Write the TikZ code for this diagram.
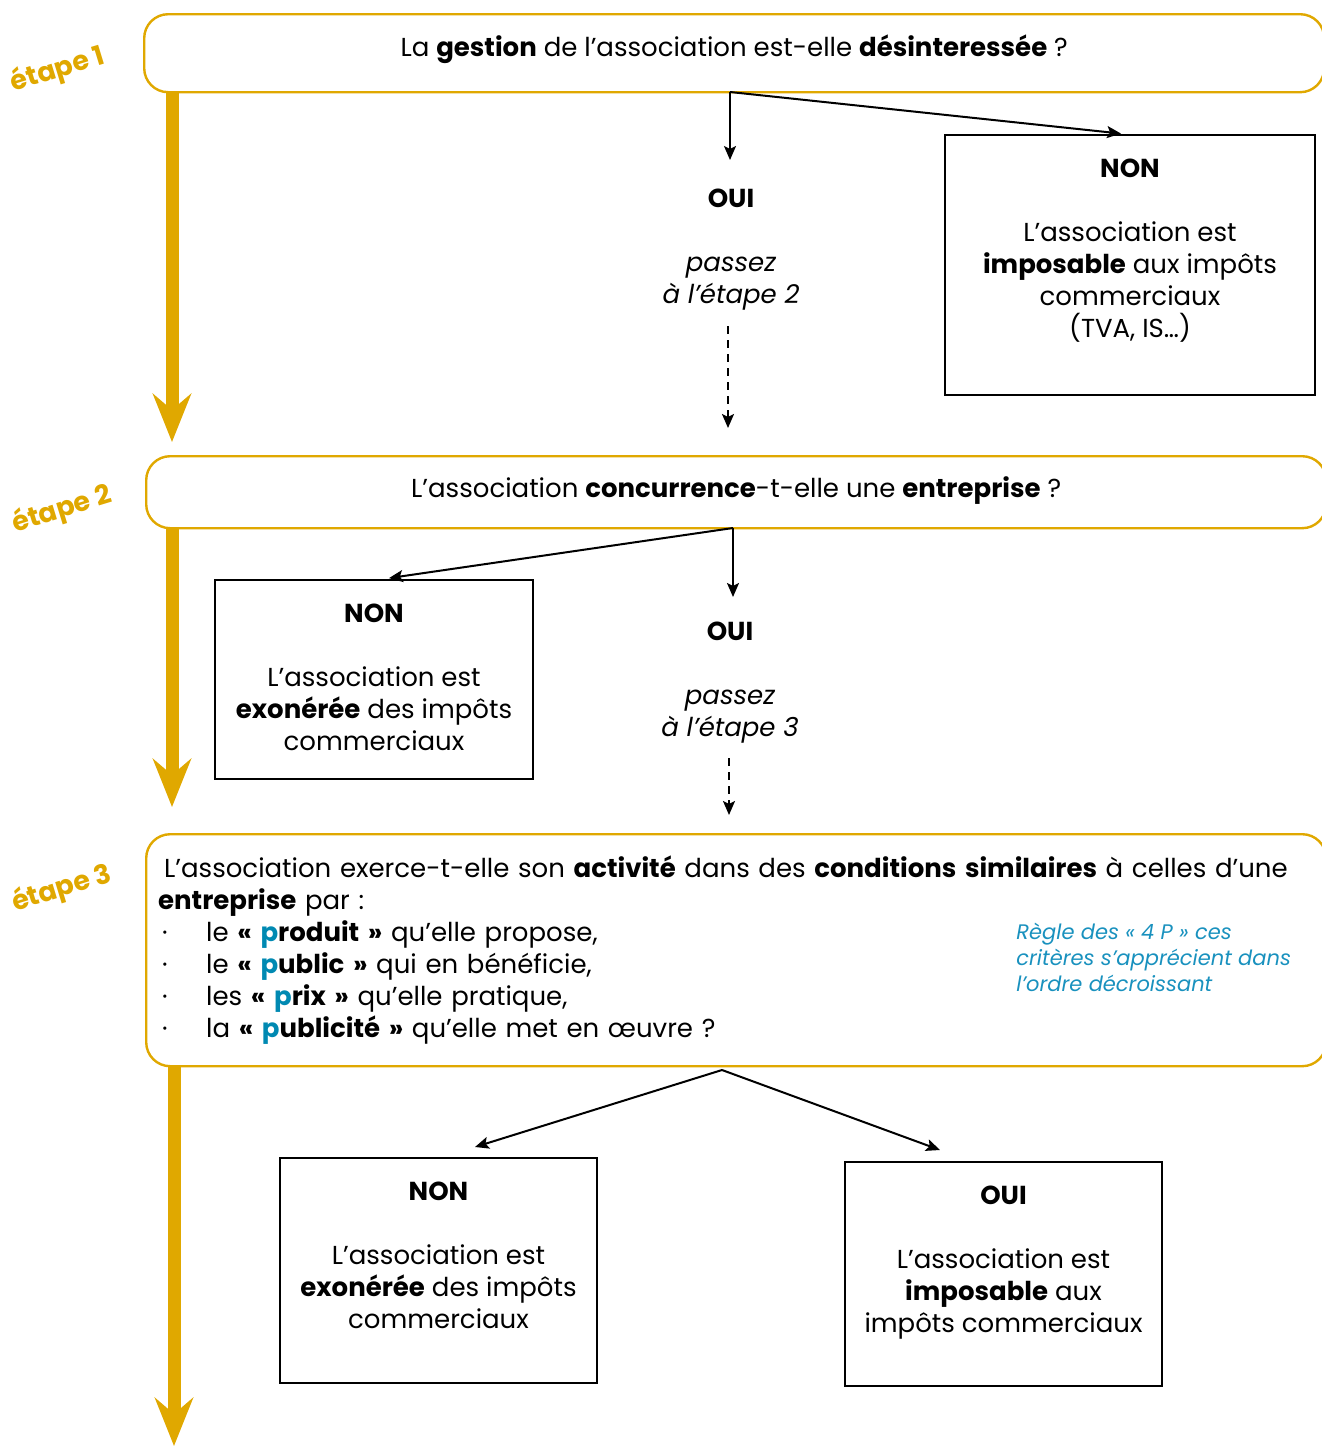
\documentclass[tikz,border=0pt]{standalone}
\usepackage{fontspec}
\setmainfont{Poppins}
\usetikzlibrary{arrows.meta,calc}
\definecolor{gold}{RGB}{224,168,0}
\definecolor{pblue}{RGB}{0,137,178}
\definecolor{nblue}{RGB}{25,145,190}
\newcommand\bul{\makebox[24pt][l]{\hspace{2pt}·}}
\begin{document}
\begin{tikzpicture}[x=0.5pt,y=-0.5pt,
 every node/.style={font=\fontsize{13}{16}\selectfont, inner sep=0pt},
 qbox/.style={draw=gold, line width=1.2pt, rounded corners=12pt, minimum width=590pt, anchor=north west},
 rbox/.style={draw=black, line width=1pt},
 arr/.style={-{Stealth[length=7pt,width=6pt,inset=1.5pt]}, line width=1pt},
 darr/.style={arr, dash pattern=on 4pt off 3pt},
 oarr/.style={draw=gold, line width=6.5pt, -{Stealth[length=24pt,width=19pt,inset=8pt]}},
 etiq/.style={text=gold, font=\fontsize{13.5}{15}\selectfont\bfseries, rotate=17},
 txt/.style={align=center}
]
\clip (0,0) rectangle (1322,1446);

% step labels
\node[etiq] (e1) at (58,70) {étape 1};
\node[etiq] (e2) at (62,510) {étape 2};
\node[etiq] (e3) at (62,889) {étape 3};

% orange arrows
\coordinate (o1s) at (172,91);  \coordinate (o1e) at (172,442);
\coordinate (o2s) at (172,527); \coordinate (o2e) at (172,807);
\coordinate (o3s) at (174,1065); \coordinate (o3e) at (174,1446);
\draw[oarr] (o1s) -- (o1e);
\draw[oarr] (o2s) -- (o2e);
\draw[oarr] (o3s) -- (o3e);

% question boxes
\node[qbox, minimum height=39pt] (q1) at (143,13) {\raisebox{2pt}[\height][\depth]{La \textbf{gestion} de l’association est-elle \textbf{désinteressée} ?}};
\node[qbox, minimum height=36pt] (q2) at (145,455) {\raisebox{1pt}[\height][\depth]{L’association \textbf{concurrence}-t-elle une \textbf{entreprise} ?}};
\node[qbox, minimum height=116pt, text width=578pt, inner xsep=6pt, align=left] (q3) at (145,833) {%
\hspace{3pt}L’association exerce-t-elle son \textbf{activité} dans des \textbf{conditions similaires} à celles d’une\\
\textbf{entreprise} par :\\
\bul le \textbf{« \textcolor{pblue}{p}roduit »} qu’elle propose,\\
\bul le \textbf{« \textcolor{pblue}{p}ublic »} qui en bénéficie,\\
\bul les \textbf{« \textcolor{pblue}{p}rix »} qu’elle pratique,\\
\bul la \textbf{« \textcolor{pblue}{p}ublicité »} qu’elle met en œuvre ?};
\node[anchor=north west, align=left, text=nblue, font=\fontsize{10.5}{13}\selectfont\itshape] (note) at (1016,923)
 {Règle des « 4 P » ces\\critères s’apprécient dans\\l’ordre décroissant};

% answer boxes
\node[rbox, minimum width=185pt, minimum height=130pt] (non1) at (1130,265) {};
\node[txt] (non1t) at (1130,251) {\textbf{NON}\\[16pt]L’association est\\\textbf{imposable} aux impôts\\commerciaux\\(TVA, IS…)};
\node[txt] (oui1) at (731,250) {\textbf{OUI}\\[16pt]\textit{passez}\\\textit{à l’étape 2}};

\node[rbox, minimum width=159pt, minimum height=99.5pt] (non2) at (374,679.5) {};
\node[txt] (non2t) at (374,677) {\textbf{NON}\\[16pt]L’association est\\\textbf{exonérée} des impôts\\commerciaux};
\node[txt] (oui2) at (730,683) {\textbf{OUI}\\[16pt]\textit{passez}\\\textit{à l’étape 3}};

\node[rbox, minimum width=158.5pt, minimum height=112.5pt] (non3) at (438.5,1270.5) {};
\node[txt] (non3t) at (438.5,1255) {\textbf{NON}\\[16pt]L’association est\\\textbf{exonérée} des impôts\\commerciaux};
\node[rbox, minimum width=158.5pt, minimum height=112pt] (oui3) at (1003.5,1274) {};
\node[txt] (oui3t) at (1003.5,1263) {\textbf{OUI}\\[16pt]L’association est\\\textbf{imposable} aux\\impôts commerciaux};

% connectors
\coordinate (s1) at (730,92);
\coordinate (t1) at (730,160);
\coordinate (s2) at (733,528);
\coordinate (t2) at (733,597);
\coordinate (s3) at (722,1070);
\coordinate (t3a) at (475,1147);
\coordinate (t3b) at (940,1150);
\coordinate (d1a) at (728,326);
\coordinate (d1b) at (728,428);
\coordinate (d2a) at (729,758);
\coordinate (d2b) at (729,815);
\draw[arr] (s1) -- (t1);
\draw[arr, shorten >=2pt] (s1) -- ($(non1.north)+(-5,0)$);
\draw[darr] (d1a) -- (d1b);
\draw[arr] (s2) -- (t2);
\draw[arr, shorten >=3pt] (s2) -- ($(non2.north)+(9,0)$);
\draw[darr] (d2a) -- (d2b);
\draw[arr] (s3) -- (t3a);
\draw[arr] (s3) -- (t3b);
\end{tikzpicture}
\end{document}
